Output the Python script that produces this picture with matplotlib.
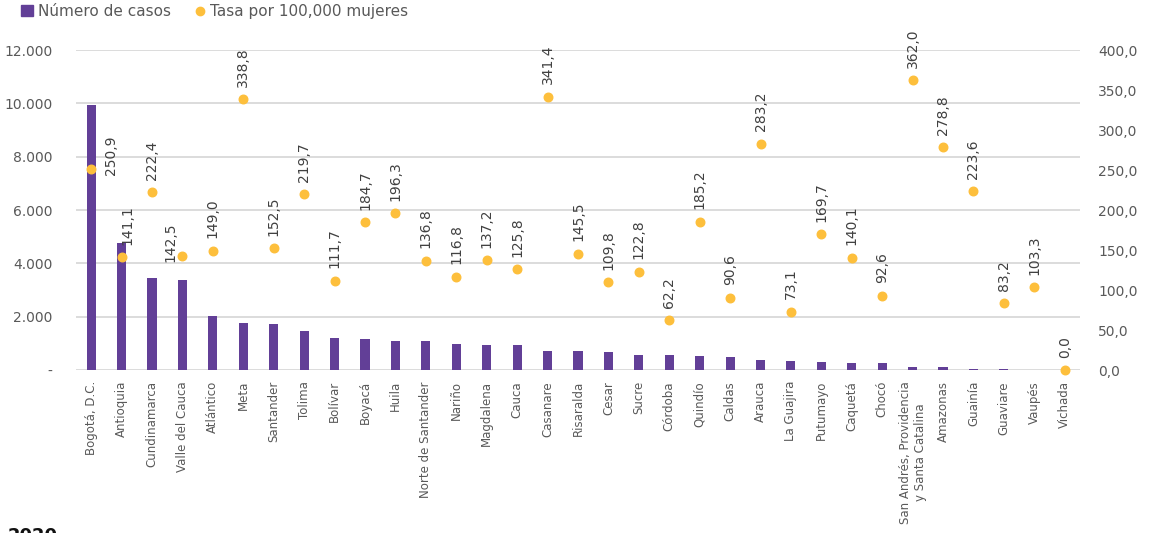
import matplotlib
matplotlib.use("Agg")
from matplotlib import pyplot as plt
from matplotlib.lines import Line2D
from matplotlib.patches import Patch
from matplotlib.ticker import FuncFormatter

departments = ["Bogotá, D.C.", "Antioquia", "Cundinamarca", "Valle del Cauca", "Atlántico",
               "Meta", "Santander", "Tolima", "Bolívar", "Boyacá", "Huila",
               "Norte de Santander", "Nariño", "Magdalena", "Cauca", "Casanare",
               "Risaralda", "Cesar", "Sucre", "Córdoba", "Quindío", "Caldas", "Arauca",
               "La Guajira", "Putumayo", "Caquetá", "Chocó",
               "San Andrés, Providencia\ny Santa Catalina", "Amazonas", "Guainía",
               "Guaviare", "Vaupés", "Vichada"]
cases = [9940, 4760, 3460, 3380, 2010, 1760, 1740, 1470, 1200, 1150, 1100,
         1080, 960, 940, 930, 720, 710, 690, 580, 570, 520, 470, 390,
         350, 300, 280, 250, 110, 100, 40, 30, 15, 0]
rate = [250.9, 141.1, 222.4, 142.5, 149.0, 338.8, 152.5, 219.7, 111.7, 184.7, 196.3,
        136.8, 116.8, 137.2, 125.8, 341.4, 145.5, 109.8, 122.8, 62.2, 185.2, 90.6, 283.2,
        73.1, 169.7, 140.1, 92.6, 362.0, 278.8, 223.6, 83.2, 103.3, 0.0]

purple = "#623F97"
yellow = "#FDBF3C"
grey = "#595959"

plt.rcParams["font.family"] = "DejaVu Sans"

fig = plt.figure(figsize=(11.58, 5.33), dpi=100)
ax = fig.add_axes([0.0656, 0.3058, 0.867, 0.6002])
ax2 = ax.twinx()

xs = list(range(len(departments)))
ax.bar(xs, cases, width=0.3, color=purple, zorder=3)
ax2.scatter(xs, rate, s=38, color=yellow, zorder=4, clip_on=False)

# data labels, most sit above the point; a few were nudged by hand
nudges = {0: (14, -4), 1: (4, 9), 3: (-9, -4)}
for i, r in enumerate(rate):
    dx, dy = nudges.get(i, (0, 9))
    ax2.annotate(f"{r:.1f}".replace(".", ","), (i, r), xytext=(dx, dy),
                 textcoords="offset points", rotation=90, ha="center", va="bottom",
                 fontsize=10, color="#404040")

ax.set_xlim(-0.5, len(departments) - 0.5)
ax.set_ylim(0, 12000)
ax.set_yticks(range(0, 12001, 2000))
ax.yaxis.set_major_formatter(FuncFormatter(lambda v, p: "-" if v == 0 else f"{int(v):,}".replace(",", ".")))
ax2.set_ylim(0, 400)
ax2.set_yticks(range(0, 401, 50))
ax2.yaxis.set_major_formatter(FuncFormatter(lambda v, p: f"{v:.1f}".replace(".", ",")))

ax.grid(axis="y", color="#D9D9D9", linewidth=1.3, zorder=0)
ax.set_axisbelow(True)
for a in (ax, ax2):
    for s in a.spines.values():
        s.set_visible(False)
    a.tick_params(length=0, labelsize=10, labelcolor=grey)
ax.tick_params(axis="y", pad=17)
ax2.tick_params(axis="y", pad=13)

ax.set_xticks(xs)
ax.set_xticklabels(departments, rotation=90, fontsize=8.5, color=grey, va="top", ha="center",
                   multialignment="center")
ax.tick_params(axis="x", pad=8)

handles = [Patch(color=purple, label="Número de casos"),
           Line2D([], [], marker="o", linestyle="none", color=yellow, markersize=6,
                  label="Tasa por 100,000 mujeres")]
leg = fig.legend(handles=handles, loc="upper left", bbox_to_anchor=(0.006, 1.018), ncol=2,
                 frameon=False, fontsize=11, handlelength=0.8, handletextpad=0.3,
                 columnspacing=1.5, labelcolor=grey)

fig.text(0.007, 0.011, "2020", fontsize=13, fontweight="bold", color="#111111", va="top")

fig.savefig("out.png", dpi=100)
